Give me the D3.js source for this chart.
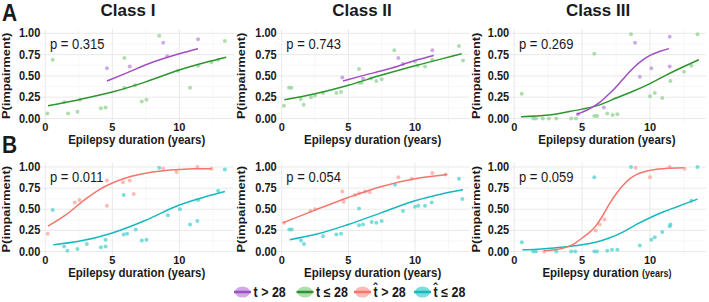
<!DOCTYPE html>
<html>
<head>
<meta charset="utf-8">
<script src="https://cdn.jsdelivr.net/npm/d3@7"></script>
<style>
  body { margin: 0; background: #fff; }
  text { font-family: "Liberation Sans", Arial, sans-serif; }
</style>
</head>
<body>
<div id="chart"></div>
<script>
// tick labels, titles
const xTicks = [0, 5, 10];
const yTicks = [0, 0.25, 0.5, 0.75, 1];
const classTitles = ["Class I", "Class II", "Class III"];
const pValuesA = ["0.315", "0.743", "0.269"];
const pValuesB = ["0.011", "0.054", "0.059"];
const legendLabels = ["t > 28", "t \u2264 28", "t\u0302 > 28", "t\u0302 \u2264 28"];

// Row A, t > 28 (purple) and t <= 28 (green): points [x, y]
const ptsA1_hi = [[4.6,0.59],[6.3,0.61],[8.8,0.89],[9.1,0.73],[11.4,0.93]];
const ptsA1_lo = [[0.15,0.06],[0.55,0.69],[1.4,0.19],[1.7,0.06],[2.4,0.08],[2.6,0.22],[4.15,0.12],[4.5,0.13],
  [5.9,0.71],[5.9,0.36],[6.7,0.39],[7.2,0.20],[7.55,0.22],[8.5,0.97],[9.9,0.56],[10.8,0.36],[11.4,0.62],[12.4,0.66],[12.9,0.69],[13.4,0.91]];
const ptsA2_hi = [[4.55,0.48],[6.1,0.47],[8.75,0.71],[9.1,0.64],[11.3,0.80]];
const ptsA2_lo = [[0.17,0.15],[0.55,0.36],[0.73,0.36],[1.43,0.23],[1.65,0.16],[2.2,0.25],[2.5,0.27],[3.1,0.30],[4.1,0.30],[4.45,0.31],
  [5.8,0.58],[5.8,0.42],[6.0,0.42],[6.7,0.47],[7.1,0.44],[7.5,0.46],[8.45,0.80],[10.0,0.67],[10.2,0.62],[10.75,0.61],[11.3,0.69],[13.3,0.85],[13.6,0.68]];
const ptsA3_hi = [[4.7,0.05],[6.6,0.13],[8.9,0.89],[9.25,0.49],[10.1,0.59],[11.45,0.96],[11.45,0.61]];
const ptsA3_lo = [[0.55,0.29],[1.4,0.0],[1.6,0.0],[2.1,0.0],[2.55,0.0],[3.1,0.0],[4.2,0.0],[4.55,0.0],[5.9,0.76],[5.9,0.03],[6.1,0.03],
  [6.85,0.06],[7.25,0.04],[7.6,0.05],[8.6,0.99],[10.0,0.26],[10.35,0.30],[10.9,0.24],[11.5,0.44],[12.5,0.55],[13.05,0.62],[13.5,0.99]];

// Row A fitted curves [x, y]
const fitA1_hi = [[4.6,0.44],[6,0.53],[8,0.66],[10,0.76],[11.4,0.82]];
const fitA1_lo = [[0.2,0.15],[2.5,0.22],[5,0.31],[7.5,0.43],[10,0.57],[12,0.66],[13.5,0.72]];
const fitA2_hi = [[4.6,0.44],[6,0.50],[8,0.58],[10,0.68],[11.4,0.74]];
const fitA2_lo = [[0.2,0.22],[2.5,0.29],[5,0.39],[7.5,0.51],[10,0.62],[12,0.70],[13.5,0.76]];
const fitA3_hi = [[4.6,0.05],[5.5,0.11],[6.3,0.19],[7,0.29],[7.5,0.37],[8,0.46],[8.75,0.59],[9.5,0.69],[10,0.74],[10.75,0.79],[11.4,0.82]];
const fitA3_lo = [[0.5,0.02],[2.5,0.04],[4,0.08],[5,0.11],[6.3,0.16],[7.5,0.24],[8.75,0.32],[10,0.41],[11.2,0.51],[12.5,0.61],[13.6,0.69]];

// Row B, t-hat > 28 (red) and t-hat <= 28 (cyan): points [x, y]
const ptsB1_hi = [[0.18,0.21],[2.2,0.58],[2.55,0.61],[4.6,0.84],[4.6,0.54],[5.8,0.82],[6.3,0.84],[6.6,0.68],[8.8,0.98],[9.8,0.94],[11.35,1.0],[12.4,0.98]];
const ptsB1_lo = [[0.55,0.49],[1.4,0.06],[1.65,0.01],[2.4,0.03],[3.1,0.09],[4.15,0.05],[4.5,0.06],[4.5,0.14],[5.85,0.67],[5.85,0.20],[6.1,0.21],
  [6.75,0.26],[7.2,0.13],[7.55,0.14],[8.5,0.99],[9.15,0.43],[10.05,0.50],[10.8,0.32],[11.35,0.36],[11.4,0.61],[12.9,0.72],[13.4,0.97]];
const ptsB2_hi = [[0.17,0.34],[2.15,0.48],[2.5,0.50],[4.55,0.71],[4.65,0.59],[5.5,0.67],[5.8,0.69],[6.25,0.71],[6.6,0.70],[8.75,0.88],[9.75,0.86],[11.3,0.93],[12.3,0.91]];
const ptsB2_lo = [[0.57,0.26],[0.75,0.26],[1.45,0.13],[1.67,0.09],[3.1,0.18],[4.1,0.20],[4.45,0.21],[5.8,0.51],[5.8,0.31],[6.1,0.32],[6.75,0.35],
  [7.1,0.34],[7.5,0.36],[8.5,0.79],[9.1,0.48],[10.0,0.53],[10.25,0.54],[10.75,0.54],[11.25,0.58],[13.3,0.86],[13.55,0.62]];
const ptsB3_hi = [[2.2,0.0],[6.0,0.25],[6.3,0.32],[6.65,0.38],[8.95,0.99],[10.0,0.88],[11.45,1.0],[12.55,0.98]];
const ptsB3_lo = [[0.56,0.11],[1.4,0.0],[1.6,0.0],[3.1,0.0],[4.2,0.0],[4.5,0.0],[5.9,0.88],[5.9,0.0],[6.1,0.0],[6.85,0.01],[7.2,0.02],[7.6,0.02],
  [8.6,1.0],[9.25,0.07],[10.1,0.14],[10.35,0.17],[10.9,0.23],[11.45,0.30],[11.5,0.32],[13.05,0.60],[13.5,1.0]];

// Row B fitted curves [x, y]
const fitB1_hi = [[0.2,0.30],[1.5,0.43],[3,0.62],[4,0.73],[5,0.81],[6,0.87],[7,0.91],[8,0.94],[9,0.96],[10,0.97],[11,0.98],[12.4,0.98]];
const fitB1_lo = [[0.6,0.08],[2.5,0.12],[5,0.22],[7.5,0.37],[10,0.55],[12,0.65],[13.4,0.71]];
const fitB2_hi = [[0.1,0.34],[2.5,0.49],[5,0.64],[7.5,0.77],[10,0.86],[12.4,0.91]];
const fitB2_lo = [[0.6,0.14],[2.5,0.20],[5,0.32],[7.5,0.46],[10,0.60],[12,0.68],[13.6,0.73]];
const fitB3_hi = [[2.2,0.01],[3,0.02],[4,0.06],[4.5,0.10],[5,0.16],[5.5,0.22],[6,0.30],[6.5,0.42],[7,0.56],[7.5,0.68],[8,0.78],[8.5,0.86],[9,0.91],[10,0.96],[11,0.98],[12.5,0.99]];
const fitB3_lo = [[0.6,0.02],[2,0.03],[4,0.06],[5,0.08],[6,0.11],[7,0.16],[8,0.23],[9,0.32],[10,0.40],[11,0.47],[12,0.53],[13.5,0.62]];

const colors = {
  purple: {line: "#a04fc2", pt: "#b987d6"},
  green:  {line: "#2e952e", pt: "#8ccf8c"},
  red:    {line: "#f4766c", pt: "#f7a09a"},
  cyan:   {line: "#16b9be", pt: "#45cfcc"}
};

const SY = 1.12;   // the figure is a little stretched vertically
const W = 709, H = 302;

const svg = d3.select("#chart").append("svg")
  .attr("width", W).attr("height", H);

// position of x=0 and x=10 for each column, y=0 / y=1 for each row
const colAt0 = [45.3, 281.7, 514.2];
const colAt10 = [179.3, 415, 650];
const rowY0 = [118.5, 251.5];
const rowY1 = [33.3, 167];
const yTitleX = [6, 241, 476];

function stxt(g, x, y, s, size, weight, anchor, sy) {
  return g.append("text")
    .attr("transform", "translate(" + x + "," + y + ") scale(1," + (sy || SY) + ")")
    .attr("text-anchor", anchor || "start")
    .style("font-size", size + "px")
    .style("font-weight", weight || "normal")
    .attr("fill", "#1a1a1a")
    .text(s);
}

function drawPanel(row, col, series, pval, smallYears) {
  const g = svg.append("g");
  const x = d3.scaleLinear().domain([0, 10]).range([colAt0[col], colAt10[col]]);
  const y = d3.scaleLinear().domain([0, 1]).range([rowY0[row], rowY1[row]]);
  const xMin = -0.45, xMax = 14.1, yMin = -0.05, yMax = 1.05;

  // grid: minor then major
  const grid = g.append("g");
  grid.selectAll(".vminor").data([2.5, 7.5, 12.5]).enter().append("line")
    .attr("x1", d => x(d)).attr("x2", d => x(d))
    .attr("y1", y(yMin)).attr("y2", y(yMax))
    .style("stroke", "#f2f2f2").style("stroke-width", 0.6);
  grid.selectAll(".hminor").data([0.125, 0.375, 0.625, 0.875]).enter().append("line")
    .attr("x1", x(xMin)).attr("x2", x(xMax))
    .attr("y1", d => y(d)).attr("y2", d => y(d))
    .style("stroke", "#f2f2f2").style("stroke-width", 0.6);
  grid.selectAll(".vmajor").data(xTicks).enter().append("line")
    .attr("x1", d => x(d)).attr("x2", d => x(d))
    .attr("y1", y(yMin)).attr("y2", y(yMax))
    .style("stroke", "#e6e6e6").style("stroke-width", 0.9);
  grid.selectAll(".hmajor").data(yTicks).enter().append("line")
    .attr("x1", x(xMin)).attr("x2", x(xMax))
    .attr("y1", d => y(d)).attr("y2", d => y(d))
    .style("stroke", "#e6e6e6").style("stroke-width", 0.9);

  // tick labels
  yTicks.forEach(function(t) {
    stxt(g, colAt0[col] - 5, y(t) + 4, d3.format(".2f")(t), 11, "bold", "end");
  });
  xTicks.forEach(function(t) {
    stxt(g, x(t), y(yMin) + 8.5, d3.format("d")(t), 11, "bold", "middle", 1);
  });

  // axis titles
  const xt = stxt(g, (x(xMin) + x(xMax)) / 2, y(yMin) + 21.5, "Epilepsy duration ", 11.5, "bold", "middle");
  xt.append("tspan").style("font-size", smallYears ? "9px" : "11.5px").text("(years)");
  g.append("text")
    .attr("transform", "translate(" + (yTitleX[col] + 4) + "," + ((y(0) + y(1)) / 2) + ") scale(1," + SY + ") rotate(-90)")
    .attr("text-anchor", "middle")
    .style("font-size", "11.5px")
    .style("font-weight", "bold")
    .attr("fill", "#1a1a1a")
    .text("P(impairment)");

  // p-value
  stxt(g, x(0.35), y(0.87) + 4.5, "p = " + pval, 13, "normal", "start");

  const line = d3.line()
    .x(d => x(d[0])).y(d => y(d[1]))
    .curve(d3.curveMonotoneX);

  series.forEach(function(s) {
    g.append("g").selectAll("circle")
      .data(s.pts).enter().append("circle")
      .attr("cx", d => x(d[0])).attr("cy", d => y(d[1]))
      .attr("r", 2)
      .style("fill", s.color.pt)
      .style("fill-opacity", 0.7);
  });
  series.forEach(function(s) {
    g.append("path")
      .datum(s.fit)
      .attr("d", line)
      .style("fill", "none")
      .style("stroke", s.color.line)
      .style("stroke-width", 1.5);
  });
}

drawPanel(0, 0, [{pts: ptsA1_lo, fit: fitA1_lo, color: colors.green}, {pts: ptsA1_hi, fit: fitA1_hi, color: colors.purple}], pValuesA[0]);
drawPanel(0, 1, [{pts: ptsA2_lo, fit: fitA2_lo, color: colors.green}, {pts: ptsA2_hi, fit: fitA2_hi, color: colors.purple}], pValuesA[1]);
drawPanel(0, 2, [{pts: ptsA3_lo, fit: fitA3_lo, color: colors.green}, {pts: ptsA3_hi, fit: fitA3_hi, color: colors.purple}], pValuesA[2]);
drawPanel(1, 0, [{pts: ptsB1_lo, fit: fitB1_lo, color: colors.cyan}, {pts: ptsB1_hi, fit: fitB1_hi, color: colors.red}], pValuesB[0]);
drawPanel(1, 1, [{pts: ptsB2_lo, fit: fitB2_lo, color: colors.cyan}, {pts: ptsB2_hi, fit: fitB2_hi, color: colors.red}], pValuesB[1]);
drawPanel(1, 2, [{pts: ptsB3_lo, fit: fitB3_lo, color: colors.cyan}, {pts: ptsB3_hi, fit: fitB3_hi, color: colors.red}], pValuesB[2], true);

// column titles and panel letters
const titleX = [128, 362, 598];
classTitles.forEach(function(t, i) {
  stxt(svg, titleX[i], 16, t, 17, "bold", "middle", 1);
});
stxt(svg, 2, 21, "A", 21, "bold", "start");
stxt(svg, 2, 153, "B", 21, "bold", "start");

// legend
const legendX = [242.5, 305, 362.5, 422.5];
const legendColors = [colors.purple, colors.green, colors.red, colors.cyan];
const legend = svg.append("g");
legendLabels.forEach(function(lab, i) {
  const cx = legendX[i], cy = 292;
  legend.append("ellipse")
    .attr("cx", cx).attr("cy", cy).attr("rx", 7.5).attr("ry", 5.5)
    .style("fill", legendColors[i].pt).style("fill-opacity", 0.7);
  legend.append("line")
    .attr("x1", cx - 8.5).attr("x2", cx + 8.5).attr("y1", cy).attr("y2", cy)
    .style("stroke", legendColors[i].line).style("stroke-width", 2.5);
  stxt(legend, cx + 11, cy + 4.5, lab, 12.5, "bold", "start");
});
</script>
</body>
</html>
